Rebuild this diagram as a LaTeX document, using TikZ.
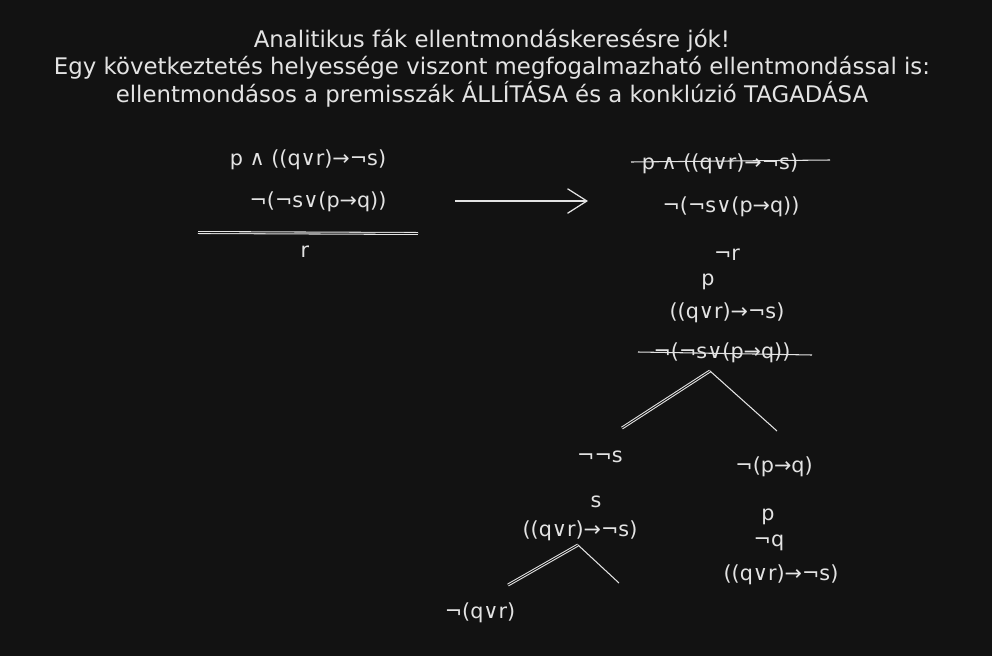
\documentclass[tikz,border=0pt]{standalone}
\usepackage{fontspec}
\setmainfont{DejaVu Sans}
\usepackage{tikz}
\usetikzlibrary{arrows.meta}
\definecolor{cBg}{HTML}{121212}
\definecolor{cInk}{HTML}{E3E3E3}

\begin{document}
\begin{tikzpicture}[x=0.02cm,y=-0.02cm,
  fml/.style={text=cInk,font=\fontsize{11.8}{14}\selectfont,inner sep=1pt},
  ttl/.style={text=cInk,font=\fontsize{13}{15.6}\selectfont,align=center},
  strike/.style={draw=cInk,line width=0.6pt},
  rule/.style={draw=cInk,double=cBg,double distance=0.5pt,line width=0.6pt},
  br/.style={draw=cInk,line width=0.6pt},
  ar/.style={-{Straight Barb[length=11pt,width=14pt]},draw=cInk,line width=0.7pt}]

\fill[cBg] (0,0) rectangle (992,656);
\useasboundingbox (0,0) rectangle (992,656);

\node[ttl] (head) at (492,68) {Analitikus fák ellentmondáskeresésre jók!\\
  Egy következtetés helyessége viszont megfogalmazható ellentmondással is:\\
  ellentmondásos a premisszák ÁLLÍTÁSA és a konklúzió TAGADÁSA};

% premises and conclusion
\node[fml] (pr1) at (308,160) {p ∧ ((q∨r)→¬s)};
\node[fml] (pr2) at (318,202) {¬(¬s∨(p→q))};
\node[fml] (con) at (305,252) {r};
\coordinate (ruleL) at (198,232.5);
\coordinate (ruleR) at (418,233.5);
\draw[rule] (ruleL) -- (ruleR);

\coordinate (arS) at (455,201);
\coordinate (arE) at (588,201);
\draw[ar] (arS) -- (arE);

% tree trunk
\node[fml] (t1) at (720,164) {p ∧ ((q∨r)→¬s)};
\node[fml] (t2) at (731,207) {¬(¬s∨(p→q))};
\node[fml] (t3) at (727,255) {¬r};
\node[fml] (t4) at (708,282) {p};
\node[fml] (t5) at (727,313) {((q∨r)→¬s)};
\node[fml] (t6) at (722,353) {¬(¬s∨(p→q))};
\coordinate (s1a) at (631,162);
\coordinate (s1b) at (830,160);
\draw[strike] (s1a) -- (s1b);
\coordinate (s6a) at (638,352);
\coordinate (s6b) at (812,355);
\draw[strike] (s6a) -- (s6b);

% first branching
\coordinate (top1) at (710,371);
\coordinate (l1) at (622,428);
\coordinate (r1) at (777,431);
\draw[rule] (top1) -- (l1);
\draw[br] (top1) -- (r1);

\node[fml] (b1) at (600,457) {¬¬s};
\node[fml] (b2) at (596,502) {s};
\node[fml] (b3) at (580,531) {((q∨r)→¬s)};
\node[fml] (c1) at (774,467) {¬(p→q)};
\node[fml] (c2) at (768,517) {p};
\node[fml] (c3) at (769,543) {¬q};
\node[fml] (c4) at (781,575) {((q∨r)→¬s)};

% second branching
\coordinate (top2) at (578,545);
\coordinate (l2) at (508,585);
\coordinate (r2) at (619,583);
\draw[rule] (top2) -- (l2);
\draw[br] (top2) -- (r2);
\node[fml] (d1) at (480,613) {¬(q∨r)};
\end{tikzpicture}
\end{document}
